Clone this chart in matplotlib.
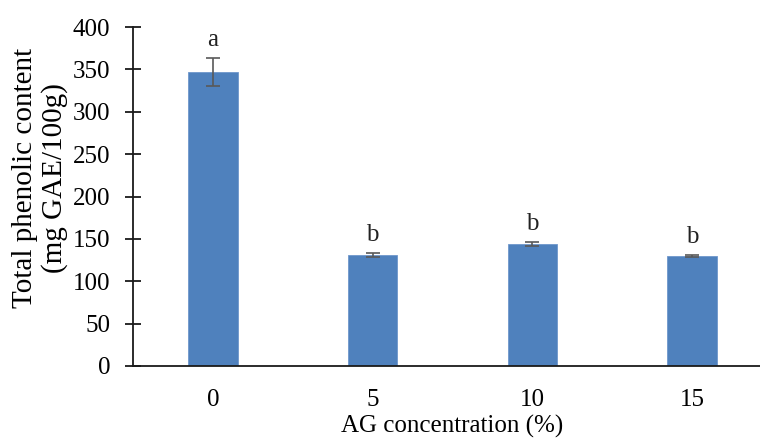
import matplotlib
matplotlib.use("Agg")
import matplotlib.pyplot as plt
import numpy as np

# data
concentrations = ["0", "5", "10", "15"]
phenolic = [347, 131, 144, 130]
phenolic_err = [17, 2, 2, 1]
letters = ["a", "b", "b", "b"]

plt.rcParams["font.family"] = ["Liberation Serif", "DejaVu Serif"]
plt.rcParams["font.size"] = 18

fig = plt.figure(figsize=(7.6, 4.46), dpi=100)
ax = fig.add_axes([133 / 760, 1 - 366 / 446, 639 / 760, 339 / 446])

x = np.arange(len(concentrations))
ax.bar(x, phenolic, width=0.31, color="#4f81bd", edgecolor="#6f97cc", linewidth=0.6, zorder=2)
ax.errorbar(x, phenolic, yerr=phenolic_err, fmt="none", ecolor="#595959",
            elinewidth=1.2, capsize=4.7, capthick=1.2, zorder=3)

for xi, v, e, lab in zip(x, phenolic, phenolic_err, letters):
    ax.text(xi, v + e + 14, lab, ha="center", va="baseline", fontsize=18, color="#222222")

ax.set_xlim(-0.5, 3.5)
ax.set_ylim(0, 400)
ax.set_yticks(np.arange(0, 401, 50))
ax.set_xticks(x)
ax.set_xticklabels(concentrations)

for side in ("top", "right"):
    ax.spines[side].set_visible(False)
for side in ("left", "bottom"):
    ax.spines[side].set_linewidth(1.3)
    ax.spines[side].set_color("#1a1a1a")

ax.tick_params(axis="y", direction="inout", length=12, width=1.3, pad=10.5, color="#1a1a1a")
ax.tick_params(axis="x", length=0, pad=16.5)

ax.set_xlabel("AG concentration (%)", labelpad=3)
ax.set_ylabel("Total phenolic content\n(mg GAE/100g)", fontsize=21, linespacing=1.15)
ax.yaxis.set_label_coords(-0.101, 0.555)

fig.savefig("out.png", dpi=100)
